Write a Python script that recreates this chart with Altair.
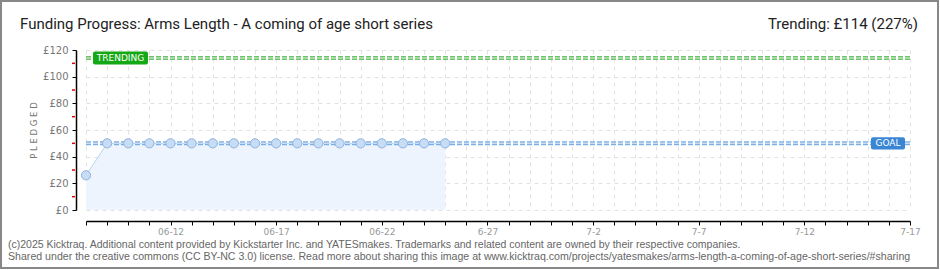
import altair as alt
import pandas as pd

# ---- data ----
dates = ["2025-06-08", "2025-06-09", "2025-06-10", "2025-06-11", "2025-06-12",
         "2025-06-13", "2025-06-14", "2025-06-15", "2025-06-16", "2025-06-17",
         "2025-06-18", "2025-06-19", "2025-06-20", "2025-06-21", "2025-06-22",
         "2025-06-23", "2025-06-24", "2025-06-25"]
pledged = [26, 50, 50, 50, 50, 50, 50, 50, 50, 50, 50, 50, 50, 50, 50, 50, 50, 50]
goal = [50]
trending = [114]
y_ticks = [0, 20, 40, 60, 80, 100, 120]
y_minor = [10, 30, 50, 70, 90, 110]
axis_start = "2025-06-08"
axis_end = "2025-07-17"
x_label_dates = ["2025-06-12", "2025-06-17", "2025-06-22", "2025-06-27",
                 "2025-07-02", "2025-07-07", "2025-07-12", "2025-07-17"]
x_label_texts = ["06-12", "06-17", "06-22", "6-27", "7-2", "7-7", "7-12", "7-17"]
title_text = "Funding Progress: Arms Length - A coming of age short series"
trend_text = "Trending:  £114 (227%)"
footer_lines = [
    "(c)2025 Kicktraq. Additional content provided by Kickstarter Inc. and YATESmakes. Trademarks and related content are owned by their respective companies.",
    "Shared under the creative commons (CC BY-NC 3.0) license. Read more about sharing this image at www.kicktraq.com/projects/yatesmakes/arms-length-a-coming-of-age-short-series/#sharing",
]

W, H = 824, 160
PAD_L, PAD_T = 86, 50

df = pd.DataFrame({"date": dates, "pledged": pledged})
goal_df = pd.DataFrame({"v": goal, "label": ["GOAL"]})
trend_df = pd.DataFrame({"v": trending, "label": ["TRENDING"]})
minor_df = pd.DataFrame({"v": y_minor})
one = pd.DataFrame({"a": [0]})

day_ms = [int(t.value // 10**6) for t in pd.date_range(axis_start, axis_end, freq="D", tz="UTC")]
start_ms, end_ms = day_ms[0], day_ms[-1]

expr = "''"
for d, t in reversed(list(zip(x_label_dates, x_label_texts))):
    expr = f"utcFormat(datum.value, '%Y-%m-%d') == '{d}' ? '{t}' : ({expr})"

xscale = alt.Scale(type="utc", domain=[start_ms, end_ms])
yscale = alt.Scale(domain=[0, 120], nice=False)
YT = "P L E D G E D"

x_axis = alt.Axis(values=day_ms, labelExpr=expr, offset=11, tickSize=4,
                  tickColor="#000", domainColor="#000", domainWidth=1.5,
                  labelColor="#999", labelFontSize=9, labelFont="DejaVu Sans",
                  labelPadding=2, labelFlush=False, labelOverlap=False,
                  grid=True, gridDash=[4, 4], gridColor="#e2e2e2")
y_axis = alt.Axis(values=y_ticks, labelExpr="'£' + datum.value", tickCount=7,
                  offset=10, tickSize=4, tickColor="#000", domainColor="#000",
                  domainWidth=1.5, labelColor="#777", labelFontSize=10,
                  labelFont="DejaVu Sans", labelPadding=4, labelOverlap=False,
                  titleColor="#777", titleFontSize=8.5, titleFont="DejaVu Sans",
                  titleFontWeight="normal", titlePadding=4,
                  grid=True, gridDash=[4, 4], gridColor="#e2e2e2")

x_enc = alt.X("date:T", scale=xscale, title=None, axis=x_axis)


def yv(field):
    return alt.Y(field, scale=yscale, title=YT, axis=y_axis)


area = alt.Chart(df).mark_area(color="#edf4fd").encode(x=x_enc, y=yv("pledged:Q"))
line = alt.Chart(df).mark_line(color="#b8d4f2", strokeWidth=1).encode(x=x_enc, y=yv("pledged:Q"))
pts = alt.Chart(df).mark_point(filled=True, size=85, fill="#c7ddf5", stroke="#8fb2dd",
                               strokeWidth=1, opacity=1).encode(x=x_enc, y=yv("pledged:Q"))

goal_rule = alt.Chart(goal_df).mark_rule(color="#7aaee6", strokeWidth=4, strokeDash=[5, 2]).encode(y=yv("v:Q"))
goal_rule_in = alt.Chart(goal_df).mark_rule(color="#c9def6", strokeWidth=1.5, strokeDash=[5, 2]).encode(y=yv("v:Q"))
trend_rule = alt.Chart(trend_df).mark_rule(color="#6cc36c", strokeWidth=4, strokeDash=[5, 2]).encode(y=yv("v:Q"))
trend_rule_in = alt.Chart(trend_df).mark_rule(color="#b9e4b9", strokeWidth=1.5, strokeDash=[5, 2]).encode(y=yv("v:Q"))

trend_box = alt.Chart(trend_df).transform_calculate(lo="datum.v - 4.9", hi="datum.v + 4.9").mark_rect(
    color="#14a814", cornerRadius=2).encode(
    x=alt.value(7), x2=alt.value(62), y=yv("lo:Q"), y2="hi:Q")
trend_lbl = alt.Chart(trend_df).mark_text(color="white", font="DejaVu Sans", fontSize=9,
                                          align="center", baseline="middle").encode(
    x=alt.value(34.5), y=yv("v:Q"), text="label:N")
goal_box = alt.Chart(goal_df).transform_calculate(lo="datum.v - 4.6", hi="datum.v + 4.6").mark_rect(
    color="#3a86d5", cornerRadius=2).encode(
    x=alt.value(785), x2=alt.value(819), y=yv("lo:Q"), y2="hi:Q")
goal_lbl = alt.Chart(goal_df).mark_text(color="white", font="DejaVu Sans", fontSize=9,
                                        align="center", baseline="middle").encode(
    x=alt.value(802), y=yv("v:Q"), text="label:N")

minor_ticks = alt.Chart(minor_df).mark_rule(color="#e00000", strokeWidth=1.5).encode(
    x=alt.value(-14), x2=alt.value(-11), y=yv("v:Q"))

title = alt.Chart(one).mark_text(text=title_text, align="left", baseline="alphabetic",
                                 font="Roboto", fontSize=15, color="#222").encode(
    x=alt.value(20 - PAD_L), y=alt.value(29 - PAD_T))
trend_t = alt.Chart(one).mark_text(text=trend_text, align="right", baseline="alphabetic",
                                   font="Roboto", fontSize=15, color="#222").encode(
    x=alt.value(918 - PAD_L), y=alt.value(29 - PAD_T))
foot1 = alt.Chart(one).mark_text(text=footer_lines[0], align="left", baseline="alphabetic",
                                 font="Liberation Sans", fontSize=10.5, color="#666").encode(
    x=alt.value(8 - PAD_L), y=alt.value(248 - PAD_T))
foot2 = alt.Chart(one).mark_text(text=footer_lines[1], align="left", baseline="alphabetic",
                                 font="Liberation Sans", fontSize=10.6, color="#666").encode(
    x=alt.value(8 - PAD_L), y=alt.value(260 - PAD_T))
border = alt.Chart(one).mark_rect(fill="transparent", stroke="#888", strokeWidth=2).encode(
    x=alt.value(1 - PAD_L), x2=alt.value(938 - PAD_L),
    y=alt.value(1 - PAD_T), y2=alt.value(268 - PAD_T))

chart = alt.layer(area, line, goal_rule, goal_rule_in, trend_rule, trend_rule_in, pts,
                  trend_box, trend_lbl, goal_box, goal_lbl, minor_ticks,
                  title, trend_t, foot1, foot2, border).properties(
    width=W, height=H,
    autosize=alt.AutoSizeParams(type="none"),
    padding={"left": PAD_L, "top": PAD_T, "right": 940 - PAD_L - W, "bottom": 270 - PAD_T - H},
    background="white",
).configure_view(stroke=None)

chart.save("out.html", embed_options={"renderer": "svg", "actions": False})
